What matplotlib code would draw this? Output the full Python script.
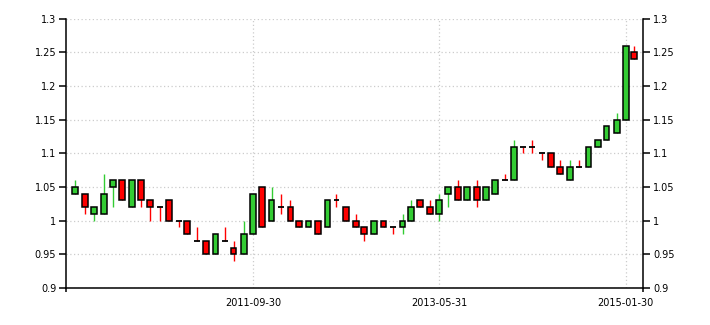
import numpy as np
import pandas as pd
import matplotlib
matplotlib.use("Agg")
import matplotlib.pyplot as plt
import matplotlib.dates as mdates

# monthly candles, Feb 2010 .. Feb 2015 (month-end business days)
dates = pd.date_range("2010-02-01", "2015-02-28", freq="BME")

opens = [1.04, 1.04, 1.01, 1.01, 1.05, 1.06, 1.02, 1.06, 1.03, 1.02,
         1.03, 1.00, 1.00, 0.97, 0.97, 0.95, 0.97, 0.96, 0.95, 0.98,
         1.05, 1.00, 1.02, 1.02, 1.00, 0.99, 1.00, 0.99, 1.03, 1.02,
         1.00, 0.99, 0.98, 1.00, 0.99, 0.99, 1.00, 1.03, 1.02, 1.01,
         1.04, 1.05, 1.03, 1.05, 1.03, 1.04, 1.06, 1.06, 1.11, 1.11,
         1.10, 1.10, 1.08, 1.06, 1.08, 1.08, 1.11, 1.12, 1.13, 1.15,
         1.25]
highs = [1.06, 1.04, 1.02, 1.07, 1.06, 1.06, 1.06, 1.06, 1.03, 1.02,
         1.03, 1.00, 1.00, 0.99, 0.97, 0.98, 0.99, 0.97, 1.00, 1.04,
         1.05, 1.05, 1.04, 1.03, 1.00, 1.00, 1.00, 1.03, 1.04, 1.02,
         1.01, 0.99, 1.00, 1.00, 0.99, 1.01, 1.03, 1.03, 1.03, 1.04,
         1.05, 1.06, 1.05, 1.06, 1.05, 1.06, 1.07, 1.12, 1.11, 1.12,
         1.10, 1.10, 1.09, 1.09, 1.09, 1.11, 1.12, 1.14, 1.16, 1.26,
         1.26]
lows = [1.04, 1.01, 1.00, 1.01, 1.02, 1.03, 1.02, 1.02, 1.00, 1.00,
        1.00, 0.99, 0.98, 0.97, 0.95, 0.95, 0.97, 0.94, 0.95, 0.98,
        0.99, 1.00, 1.01, 1.00, 0.99, 0.99, 0.98, 0.99, 1.02, 1.00,
        0.99, 0.97, 0.98, 0.99, 0.98, 0.98, 1.00, 1.02, 1.01, 1.00,
        1.02, 1.03, 1.03, 1.02, 1.03, 1.04, 1.06, 1.06, 1.10, 1.10,
        1.09, 1.08, 1.07, 1.06, 1.08, 1.08, 1.11, 1.12, 1.13, 1.15,
        1.24]
closes = [1.05, 1.02, 1.02, 1.04, 1.06, 1.03, 1.06, 1.03, 1.02, 1.02,
          1.00, 1.00, 0.98, 0.97, 0.95, 0.98, 0.97, 0.95, 0.98, 1.04,
          0.99, 1.03, 1.02, 1.00, 0.99, 1.00, 0.98, 1.03, 1.03, 1.00,
          0.99, 0.98, 1.00, 0.99, 0.99, 1.00, 1.02, 1.02, 1.01, 1.03,
          1.05, 1.03, 1.05, 1.03, 1.05, 1.06, 1.06, 1.11, 1.11, 1.11,
          1.10, 1.08, 1.07, 1.08, 1.08, 1.11, 1.12, 1.14, 1.15, 1.26,
          1.24]

tick_dates = ["2011-09-30", "2013-05-31", "2015-01-30"]
y_ticks = [0.9, 0.95, 1.0, 1.05, 1.1, 1.15, 1.2, 1.25, 1.3]

UP = "#33cc33"
DOWN = "#ff0000"

df = pd.DataFrame({"open": opens, "high": highs, "low": lows, "close": closes}, index=dates)
x = mdates.date2num(df.index.to_pydatetime())
up = df["close"] > df["open"]
doji = df["close"] == df["open"]
wick_col = np.where(up, UP, DOWN)

fig = plt.figure(figsize=(7.1, 3.25), dpi=100)
ax = fig.add_axes([0.093, 0.114, 0.813, 0.828])

# wicks
ax.vlines(x, df["low"], df["high"], colors=wick_col, linewidth=1.0, zorder=2)

# bodies
body = ~doji
bw = 19
ax.bar(x[body], (df["close"] - df["open"])[body].abs(),
       bottom=np.minimum(df["open"], df["close"])[body],
       width=bw, color=np.where(up, UP, DOWN)[body],
       edgecolor="black", linewidth=1.1, zorder=3)
# doji: flat black line
ax.hlines(df["open"][doji], x[doji] - bw / 2, x[doji] + bw / 2,
          colors="black", linewidth=1.3, zorder=3)

xmin, xmax = x[0] - 29, x[-1] + 29
ax.set_ylim(0.9, 1.3)
ax.set_xlim(xmin, xmax)
ax.set_yticks(y_ticks)
ax.set_yticklabels([f"{v:g}" for v in y_ticks])
ax.set_xticks(mdates.date2num(pd.to_datetime(tick_dates).to_pydatetime()))
ax.set_xticklabels(tick_dates)
# little stubs of the side axes below the bottom line
ax.set_xticks([xmin, xmax], minor=True)

ax.grid(True, which="major", color="#cccccc", linestyle=(0, (1, 2)), linewidth=0.9)
ax.set_axisbelow(True)

ax.spines["top"].set_visible(False)
for s in ["left", "right", "bottom"]:
    ax.spines[s].set_linewidth(1.1)
    ax.spines[s].set_color("black")

ax.tick_params(axis="y", which="both", left=True, right=True,
               labelleft=True, labelright=True, length=5, width=1.1,
               labelsize=7, pad=2, colors="black")
ax.tick_params(axis="x", which="major", length=0, labelsize=7, pad=7, colors="black")
ax.tick_params(axis="x", which="minor", length=3, width=1.1, color="black")

fig.savefig("out.png", dpi=100)
